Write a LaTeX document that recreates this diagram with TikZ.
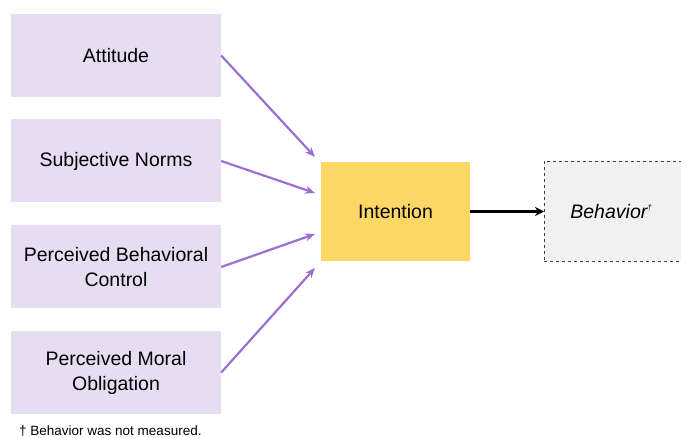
\documentclass[tikz,border=0pt]{standalone}
\usepackage{fontspec}
\setmainfont{Liberation Sans}
\usetikzlibrary{arrows.meta}
\definecolor{lav}{HTML}{E6DDF3}
\definecolor{gold}{HTML}{FDD766}
\definecolor{pale}{HTML}{F1F1F1}
\definecolor{violet}{HTML}{9D6FD3}
\begin{document}
\begin{tikzpicture}[x=1pt,y=-1pt,
  factor/.style={fill=lav,draw=none,minimum width=210pt,minimum height=83pt,
    align=center,font=\fontsize{19.5}{25}\selectfont,inner sep=0pt},
  link/.style={violet,line width=2.2pt,-{Stealth[length=10pt,width=8pt]}},
  flow/.style={black,line width=2.4pt,-{Stealth[length=9pt,width=9pt]}}]
\useasboundingbox (0,0) rectangle (681,438);
\fill[white] (0,0) rectangle (681,438);
\begin{scope}
\clip (0,0) rectangle (681,438);
\node[factor] (att) at (116,55.5) {Attitude};
\node[factor] (sn)  at (116,161) {Subjective Norms};
\node[factor] (pbc) at (116,267) {Perceived Behavioral\\Control};
\node[factor] (pmo) at (116,372.5) {Perceived Moral\\Obligation};
\node[fill=gold,minimum width=149pt,minimum height=99pt,inner sep=0pt,
  font=\fontsize{19.5}{25}\selectfont] (int) at (395.5,211.5) {Intention};
\node[fill=pale,draw=black!75,dashed,line width=0.7pt,minimum width=160pt,
  minimum height=100pt,inner sep=0pt,anchor=west,
  font=\fontsize{19.5}{25}\selectfont\itshape] (beh) at (544,211.5)
  {\hspace*{-26pt}Behavior\textsuperscript{\fontsize{8}{8}\selectfont\dag}};
\end{scope}
\coordinate (a1) at (315,157);
\coordinate (a2) at (315,193);
\coordinate (a3) at (315,234);
\coordinate (a4) at (315,268);
\draw[link] (att.east) -- (a1);
\draw[link] (sn.east) -- (a2);
\draw[link] (pbc.east) -- (a3);
\draw[link] (pmo.east) -- (a4);
\draw[flow] (int.east) -- (beh.west);
\node[anchor=base west,font=\fontsize{13.5}{15}\selectfont,inner sep=0pt,
  text depth=0pt] (note) at (19,435.5)
  {\dag\ Behavior was not measured.};
\end{tikzpicture}
\end{document}
